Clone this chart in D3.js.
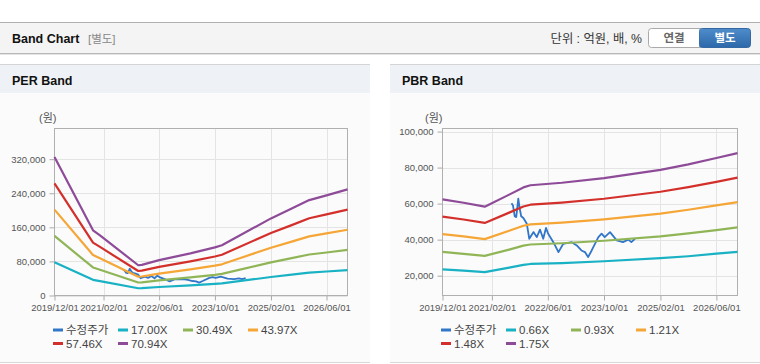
<!DOCTYPE html>
<html>
<head>
<meta charset="utf-8">
<script src="https://cdn.jsdelivr.net/npm/d3@7"></script>
<style>
  body { margin: 0; background: #fff; }
  svg { display: block; font-family: 'Liberation Sans', Arial, 'Noto Sans CJK KR', sans-serif; }
</style>
</head>
<body>
<svg id="chart" width="760" height="364"></svg>
<script>
// tick labels
const xTickLabels = ['2019/12/01', '2021/02/01', '2022/06/01', '2023/10/01', '2025/02/01', '2026/06/01'];
const perYTicks = [0, 80000, 160000, 240000, 320000];
const pbrYTicks = [20000, 40000, 60000, 80000, 100000];

// PER band series
const perDates = ['2019/12/01', '2020/11/01', '2021/01/01', '2021/12/01', '2022/01/01', '2022/06/01', '2023/03/01',
  '2023/10/01', '2023/12/01', '2025/02/01', '2025/08/01', '2026/01/01', '2026/06/01', '2026/12/01'];
const per17 = [77900, 36700, 33800, 17000, 17300, 19900, 23700, 27100, 28300, 43400, 48900, 53700, 56300, 59700];
const per3049 = [139800, 65800, 60600, 30500, 31000, 35700, 42600, 48600, 50700, 77800, 87700, 96300, 101000, 107000];
const per4397 = [201500, 94900, 87400, 44000, 44600, 51500, 61400, 70000, 73200, 112200, 126500, 138900, 145700, 154400];
const per5746 = [263000, 124000, 114000, 57500, 58300, 67200, 80200, 91500, 95600, 146600, 165200, 181400, 190400, 201700];
const per7094 = [325000, 153000, 141000, 71000, 72000, 83000, 99000, 113000, 118000, 181000, 204000, 224000, 235000, 249000];

// PBR band series
const pbrDates = ['2019/12/01', '2020/06/01', '2020/12/01', '2021/07/01', '2021/11/01', '2022/01/01',
  '2022/10/01', '2023/10/01', '2025/02/01', '2025/10/01', '2026/06/01', '2026/12/01'];
const pbr066 = [23500, 22800, 22000, 24500, 26000, 26500, 27000, 28000, 29700, 30800, 32200, 33200];
const pbr093 = [33200, 32100, 31000, 34500, 36700, 37300, 38000, 39400, 41800, 43500, 45300, 46800];
const pbr121 = [43100, 41800, 40300, 44900, 47700, 48500, 49500, 51300, 54400, 56600, 59000, 60800];
const pbr148 = [52800, 51200, 49300, 55000, 58400, 59400, 60600, 62700, 66600, 69200, 72100, 74400];
const pbr175 = [62400, 60500, 58300, 65000, 69000, 70200, 71600, 74200, 78700, 81800, 85300, 88000];

// adjusted share price (수정주가)
const priceDates = ['2021/07/21', '2021/08/03', '2021/08/18', '2021/08/31', '2021/09/18', '2021/10/01', '2021/10/13',
  '2021/11/01', '2021/12/01', '2021/12/22', '2022/01/28', '2022/02/25', '2022/03/25', '2022/04/22', '2022/05/16',
  '2022/06/04', '2022/07/19', '2022/09/01', '2022/10/13', '2022/12/25', '2023/02/07', '2023/03/19', '2023/04/19',
  '2023/05/16', '2023/06/16', '2023/08/13', '2023/09/10', '2023/10/07', '2023/11/22', '2024/01/19', '2024/03/13',
  '2024/04/28', '2024/05/25', '2024/06/25'];
const price = [60200, 58900, 53000, 52500, 62800, 57000, 53000, 52000, 48800, 40500, 44200, 41400, 45600, 40500,
  46500, 43300, 38600, 33100, 37700, 38600, 36800, 34000, 33100, 30300, 34000, 41400, 43300, 41400, 44200, 39600,
  38600, 40000, 38600, 40500];

const parse = d3.timeParse('%Y/%m/%d');
const colors = ['#3176c8', '#19b1c4', '#90b557', '#f5a636', '#d3302c', '#8e4b98'];

const svg = d3.select('#chart');

// ---- top bar
svg.append('rect').attr('x', 0).attr('y', 22).attr('width', 760).attr('height', 31).attr('fill', '#f4f4f4');
svg.append('line').attr('x1', 0).attr('x2', 760).attr('y1', 22.5).attr('y2', 22.5).attr('stroke', '#b0b0b0');
svg.append('line').attr('x1', 0).attr('x2', 760).attr('y1', 53.5).attr('y2', 53.5).attr('stroke', '#b8b8b8');
svg.append('line').attr('x1', 0).attr('x2', 760).attr('y1', 54.5).attr('y2', 54.5).attr('stroke', '#e4e4e4');
svg.append('text').attr('x', 12).attr('y', 43).attr('font-size', 12.5).attr('font-weight', 'bold')
  .attr('fill', '#111').text('Band Chart');
svg.append('text').attr('x', 88).attr('y', 43).attr('font-size', 11.5).attr('fill', '#888').text('[별도]');
svg.append('text').attr('x', 642).attr('y', 43).attr('font-size', 12.3).attr('fill', '#333')
  .attr('text-anchor', 'end').text('단위 : 억원, 배, %');

// toggle buttons
const defs = svg.append('defs');
const grad = defs.append('linearGradient').attr('id', 'btn').attr('x1', 0).attr('x2', 0).attr('y1', 0).attr('y2', 1);
grad.append('stop').attr('offset', '0%').attr('stop-color', '#4f8cca');
grad.append('stop').attr('offset', '100%').attr('stop-color', '#2d69aa');
svg.append('rect').attr('x', 648.5).attr('y', 28.5).attr('width', 56).attr('height', 19).attr('rx', 3)
  .attr('fill', '#fff').attr('stroke', '#aaa');
svg.append('rect').attr('x', 699.5).attr('y', 28.5).attr('width', 51).attr('height', 19).attr('rx', 3)
  .attr('fill', 'url(#btn)').attr('stroke', '#3469a3');
svg.append('rect').attr('x', 699.5).attr('y', 29).attr('width', 4).attr('height', 18).attr('fill', 'url(#btn)');
svg.append('text').attr('x', 674).attr('y', 42).attr('font-size', 11.5).attr('font-weight', 'bold')
  .attr('fill', '#666').attr('text-anchor', 'middle').text('연결');
svg.append('text').attr('x', 725).attr('y', 42).attr('font-size', 11.5).attr('font-weight', 'bold')
  .attr('fill', '#fff').attr('text-anchor', 'middle').text('별도');

function drawPanel(cfg) {
  const g = svg.append('g');
  // panel background and header
  g.append('rect').attr('x', cfg.px).attr('y', 64).attr('width', cfg.pw).attr('height', 298).attr('fill', '#fbfbfb');
  g.append('rect').attr('x', cfg.px).attr('y', 64).attr('width', cfg.pw).attr('height', 29).attr('fill', '#eef1f6');
  g.append('line').attr('x1', cfg.px).attr('x2', cfg.px + cfg.pw).attr('y1', 64.5).attr('y2', 64.5).attr('stroke', '#d4d4d4');
  g.append('line').attr('x1', cfg.px).attr('x2', cfg.px + cfg.pw).attr('y1', 362.5).attr('y2', 362.5).attr('stroke', '#d8d8d8');
  g.append('text').attr('x', cfg.px + 12).attr('y', 85).attr('font-size', 12.5).attr('font-weight', 'bold')
    .attr('fill', '#111').text(cfg.title);

  const x = d3.scaleTime().domain([parse('2019/12/01'), parse('2026/12/01')]).range([cfg.left, cfg.right]);
  const y = d3.scaleLinear().domain(cfg.yDomain).range([295.5, 128.5]);

  // grid
  g.append('g').selectAll('line.v').data(xTickLabels.slice(1)).enter().append('line')
    .attr('x1', d => Math.round(x(parse(d))) + 0.5).attr('x2', d => Math.round(x(parse(d))) + 0.5)
    .attr('y1', 128.5).attr('y2', 295.5).attr('stroke', '#e4e4e4');
  g.append('g').selectAll('line.h').data(cfg.yTicks).enter().append('line')
    .attr('x1', cfg.left).attr('x2', cfg.right)
    .attr('y1', d => Math.round(y(d)) + 0.5).attr('y2', d => Math.round(y(d)) + 0.5).attr('stroke', '#e4e4e4');

  // axes
  const xa = g.append('g').attr('transform', 'translate(0,295.5)')
    .call(d3.axisBottom(x).tickValues(xTickLabels.map(parse)).tickFormat(d3.timeFormat('%Y/%m/%d'))
      .tickSize(5).tickPadding(4));
  const ya = g.append('g').attr('transform', `translate(${cfg.left},0)`)
    .call(d3.axisLeft(y).tickValues(cfg.yTicks).tickFormat(d3.format(',')).tickSize(5).tickPadding(4));
  [xa, ya].forEach(a => {
    a.select('.domain').remove();
    a.selectAll('line').attr('stroke', '#aaa');
    a.selectAll('text').attr('fill', '#555').attr('font-size', 9.5).attr('font-family', null);
  });
  g.append('rect').attr('x', cfg.left).attr('y', 128.5).attr('width', cfg.right - cfg.left).attr('height', 167)
    .attr('fill', 'none').attr('stroke', '#b0b0b0');
  g.append('text').attr('x', cfg.unitX).attr('y', 122).attr('font-size', 11).attr('fill', '#555').text('(원)');

  // lines
  const line = d3.line().x(d => x(d[0])).y(d => y(d[1]));
  cfg.series.forEach((s, i) => {
    const pts = s.dates.map((d, j) => [parse(d), s.values[j]]);
    g.append('path').datum(pts).attr('d', line).attr('fill', 'none')
      .attr('stroke', colors[i]).attr('stroke-width', i === 0 ? 1.8 : 2.2).attr('stroke-linejoin', 'round');
  });

  // legend
  cfg.series.forEach((s, i) => {
    const lx = cfg.left - 1.5 + (i % 4) * 65;
    const ly = 330 + Math.floor(i / 4) * 13.5;
    g.append('line').attr('x1', lx).attr('x2', lx + 10).attr('y1', ly).attr('y2', ly)
      .attr('stroke', colors[i]).attr('stroke-width', 3);
    g.append('text').attr('x', lx + 13).attr('y', ly + 4).attr('font-size', 11.5).attr('fill', '#444').text(s.name);
  });
}

drawPanel({
  title: 'PER Band', px: 0, pw: 370, left: 54.5, right: 347.5, unitX: 39,
  yDomain: [0, 392000], yTicks: perYTicks,
  series: [
    { name: '수정주가', dates: priceDates, values: price },
    { name: '17.00X', dates: perDates, values: per17 },
    { name: '30.49X', dates: perDates, values: per3049 },
    { name: '43.97X', dates: perDates, values: per4397 },
    { name: '57.46X', dates: perDates, values: per5746 },
    { name: '70.94X', dates: perDates, values: per7094 }
  ]
});

drawPanel({
  title: 'PBR Band', px: 390, pw: 370, left: 442.5, right: 737.5, unitX: 425,
  yDomain: [9000, 101700], yTicks: pbrYTicks,
  series: [
    { name: '수정주가', dates: priceDates, values: price },
    { name: '0.66X', dates: pbrDates, values: pbr066 },
    { name: '0.93X', dates: pbrDates, values: pbr093 },
    { name: '1.21X', dates: pbrDates, values: pbr121 },
    { name: '1.48X', dates: pbrDates, values: pbr148 },
    { name: '1.75X', dates: pbrDates, values: pbr175 }
  ]
});
</script>
</body>
</html>
